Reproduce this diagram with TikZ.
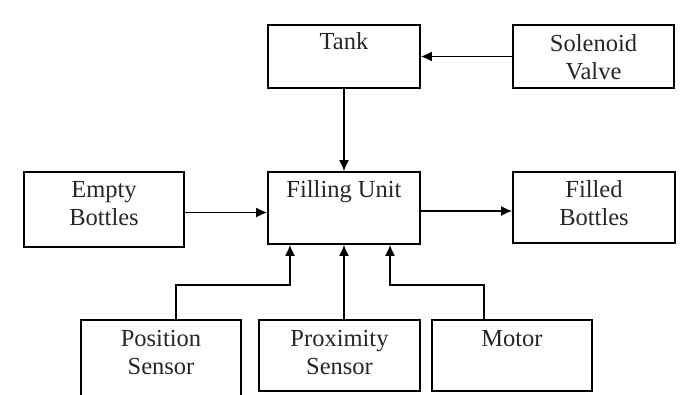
\documentclass[tikz,border=0pt]{standalone}
\usepackage{fontspec}
\setmainfont{Liberation Serif}
\usetikzlibrary{arrows.meta}
\begin{document}
\begin{tikzpicture}[x=1pt,y=-1pt,
  box/.style={draw=black,line width=1.6pt,rectangle,inner sep=0pt},
  lbl/.style={font=\fontsize{24.5}{28}\selectfont,align=center,anchor=base,inner sep=0pt,text=black!85},
  arr/.style={line width=1.6pt,-{Latex[length=11pt,width=10pt]}}]
\useasboundingbox (0,0) rectangle (693,394);
\clip (0,0) rectangle (693,394);
% boxes
\node[box,minimum width=152pt,minimum height=63pt] (tank) at (344,56.5) {};
\node[box,minimum width=161pt,minimum height=63pt] (sol) at (593.5,56.5) {};
\node[box,minimum width=152pt,minimum height=72pt] (fill) at (344,208) {};
\node[box,minimum width=160pt,minimum height=75pt] (empty) at (104,209.5) {};
\node[box,minimum width=162pt,minimum height=71pt] (filled) at (594,207.5) {};
\node[box,minimum width=160pt,minimum height=77pt] (pos) at (161,358.5) {};
\node[box,minimum width=161pt,minimum height=71pt] (prox) at (339.5,355.5) {};
\node[box,minimum width=160pt,minimum height=71pt] (motor) at (512,355.5) {};
% labels
\node[lbl] (tankt) at ([yshift=-25pt]tank.north) {Tank};
\node[lbl] (solt) at ([yshift=-55pt]sol.north) {Solenoid\\Valve};
\node[lbl] (fillt) at ([yshift=-26pt]fill.north) {Filling Unit};
\node[lbl] (emptyt) at ([yshift=-54pt]empty.north) {Empty\\Bottles};
\node[lbl] (filledt) at ([yshift=-54pt]filled.north) {Filled\\Bottles};
\node[lbl] (post) at ([yshift=-55pt]pos.north) {Position\\Sensor};
\node[lbl] (proxt) at ([yshift=-55pt]prox.north) {Proximity\\Sensor};
\node[lbl] (motort) at ([yshift=-27pt]motor.north) {Motor};
% connectors
\draw[arr] (sol.west) -- (tank.east);
\draw[arr] (tank.south) -- (fill.north);
\draw[arr] ([yshift=-3pt]empty.east) -- ([yshift=-3pt]empty.east -| fill.west);
\draw[arr] ([yshift=-3pt]fill.east) -- ([yshift=-3pt]fill.east -| filled.west);
\draw[arr] ([xshift=15pt]pos.north) -- ++(0,-34) -| ([xshift=-54pt]fill.south);
\draw[arr] (fill.south |- prox.north) -- (fill.south);
\draw[arr] ([xshift=-28pt]motor.north) -- ++(0,-34) -| ([xshift=46pt]fill.south);
\end{tikzpicture}
\end{document}
